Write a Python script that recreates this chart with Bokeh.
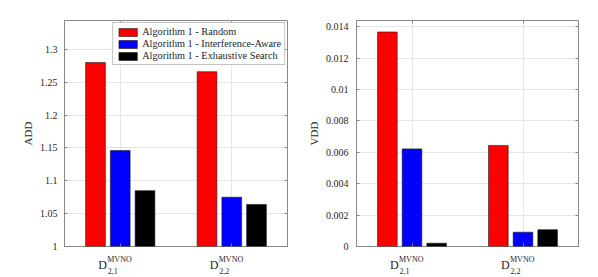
from bokeh.plotting import figure
from bokeh.models import (ColumnDataSource, Range1d, FixedTicker, LinearAxis,
                          CustomJSTickFormatter, Label)
from bokeh.layouts import row, column
from bokeh.transform import dodge
from bokeh.embed import file_html
from bokeh.resources import INLINE

# ---------------- data ----------------
categories = [1, 2]
cat_subscripts = ["2,1", "2,2"]
series_names = ["Algorithm 1 - Random",
                "Algorithm 1 - Interference-Aware",
                "Algorithm 1 - Exhaustive Search"]
series_colors = ["#ff0000", "#0000ff", "#000000"]

add_random = [1.280, 1.266]
add_interference = [1.146, 1.075]
add_exhaustive = [1.085, 1.064]

vdd_random = [0.01367, 0.00644]
vdd_interference = [0.00622, 0.00091]
vdd_exhaustive = [0.00021, 0.00107]

add_ticks = [1, 1.05, 1.1, 1.15, 1.2, 1.25, 1.3]
vdd_ticks = [0, 0.002, 0.004, 0.006, 0.008, 0.01, 0.012, 0.014]

FONT = "Liberation Serif"
AXIS_COL = "#888888"
TEXT_COL = "#262626"
GRID_COL = "#e6e6e6"
OFFSETS = [-0.222, 0.0, 0.222]
BAR_W = 0.177

MAIN_H = 252
LABEL_H = 25


def tick_axis(ticks):
    return LinearAxis(ticker=FixedTicker(ticks=ticks),
                      axis_line_color=None, major_tick_line_color=AXIS_COL,
                      major_tick_in=3, major_tick_out=0, minor_tick_line_color=None,
                      major_label_text_color=None, major_label_standoff=0)


def make_panel(vals, ymin, ymax, yticks, ylabel, width, mb_left, mb_right,
               label_standoff, legend):
    xr = Range1d(0.5, 2.5)
    src = ColumnDataSource(dict(x=categories, s0=vals[0], s1=vals[1], s2=vals[2]))
    p = figure(width=width, height=MAIN_H, x_range=xr,
               y_range=Range1d(ymin, ymax), output_backend="svg",
               toolbar_location=None, x_axis_location=None,
               min_border_left=mb_left, min_border_right=mb_right,
               min_border_top=20, min_border_bottom=6)
    p.background_fill_color = "white"
    p.border_fill_color = "white"
    p.outline_line_color = AXIS_COL
    p.outline_line_width = 1

    for i, col in enumerate(["s0", "s1", "s2"]):
        kw = dict(legend_label=series_names[i]) if legend else {}
        p.vbar(x=dodge("x", OFFSETS[i]), top=col, bottom=ymin, width=BAR_W,
               source=src, fill_color=series_colors[i], line_color="#1a1a1a",
               line_width=0.6, **kw)

    ya = p.yaxis[0]
    ya.ticker = FixedTicker(ticks=yticks)
    ya.formatter = CustomJSTickFormatter(code="return String(tick);")
    ya.axis_line_color = AXIS_COL
    ya.major_tick_line_color = AXIS_COL
    ya.major_tick_in = 3
    ya.major_tick_out = 0
    ya.minor_tick_line_color = None
    ya.major_label_text_font = FONT
    ya.major_label_text_color = TEXT_COL
    ya.major_label_text_font_size = "10px"
    ya.major_label_standoff = label_standoff
    ya.axis_label = ylabel
    ya.axis_label_text_font = FONT
    ya.axis_label_text_font_size = "11px"
    ya.axis_label_text_font_style = "normal"
    ya.axis_label_text_color = TEXT_COL
    ya.axis_label_standoff = 3

    # inward ticks on the remaining sides of the box
    p.add_layout(tick_axis(yticks), "right")
    p.add_layout(tick_axis(categories), "above")
    bottom_ax = tick_axis(categories)
    bottom_ax.fixed_location = ymin
    p.add_layout(bottom_ax, "below")

    p.xgrid.grid_line_color = GRID_COL
    p.ygrid.grid_line_color = GRID_COL
    p.xgrid.ticker = FixedTicker(ticks=categories)
    p.ygrid.ticker = FixedTicker(ticks=yticks)

    if legend:
        lg = p.legend[0]
        lg.location = "top_right"
        lg.margin = 2
        lg.padding = 3
        lg.spacing = 1
        lg.glyph_width = 23
        lg.glyph_height = 10
        lg.label_height = 11
        lg.label_standoff = 3
        lg.label_text_font = FONT
        lg.label_text_font_size = "10.3px"
        lg.label_text_color = TEXT_COL
        lg.border_line_color = AXIS_COL
        lg.background_fill_alpha = 1.0

    # strip under the axes holding the category labels D^{MVNO}_{i,j}
    q = figure(width=width, height=LABEL_H, x_range=xr, y_range=Range1d(0, 1),
               output_backend="svg", toolbar_location=None,
               x_axis_location=None, y_axis_location=None,
               min_border_left=mb_left, min_border_right=mb_right,
               min_border_top=0, min_border_bottom=0)
    q.outline_line_color = None
    q.grid.visible = False
    q.background_fill_color = "white"
    q.border_fill_color = "white"
    for cat, sub in zip(categories, cat_subscripts):
        q.add_layout(Label(x=cat, y=12.5, y_units="screen", text="D", x_offset=-22,
                           text_font=FONT, text_font_size="12px",
                           text_color=TEXT_COL, text_baseline="alphabetic"))
        q.add_layout(Label(x=cat, y=17.7, y_units="screen", text="MVNO", x_offset=-13,
                           text_font=FONT, text_font_size="8px",
                           text_color=TEXT_COL, text_baseline="alphabetic"))
        q.add_layout(Label(x=cat, y=7, y_units="screen", text=sub, x_offset=-12.5,
                           text_font=FONT, text_font_size="8px",
                           text_color=TEXT_COL, text_baseline="alphabetic"))
    return column(p, q)


c1 = make_panel([add_random, add_interference, add_exhaustive], 1, 1.344,
                add_ticks, "ADD", 300, 64, 13, 7, True)
c2 = make_panel([vdd_random, vdd_interference, vdd_exhaustive], 0, 0.0144,
                vdd_ticks, "VDD", 298, 56, 20, 8, False)

layout = row(c1, c2)
open("out.html", "w").write(file_html(layout, INLINE))
